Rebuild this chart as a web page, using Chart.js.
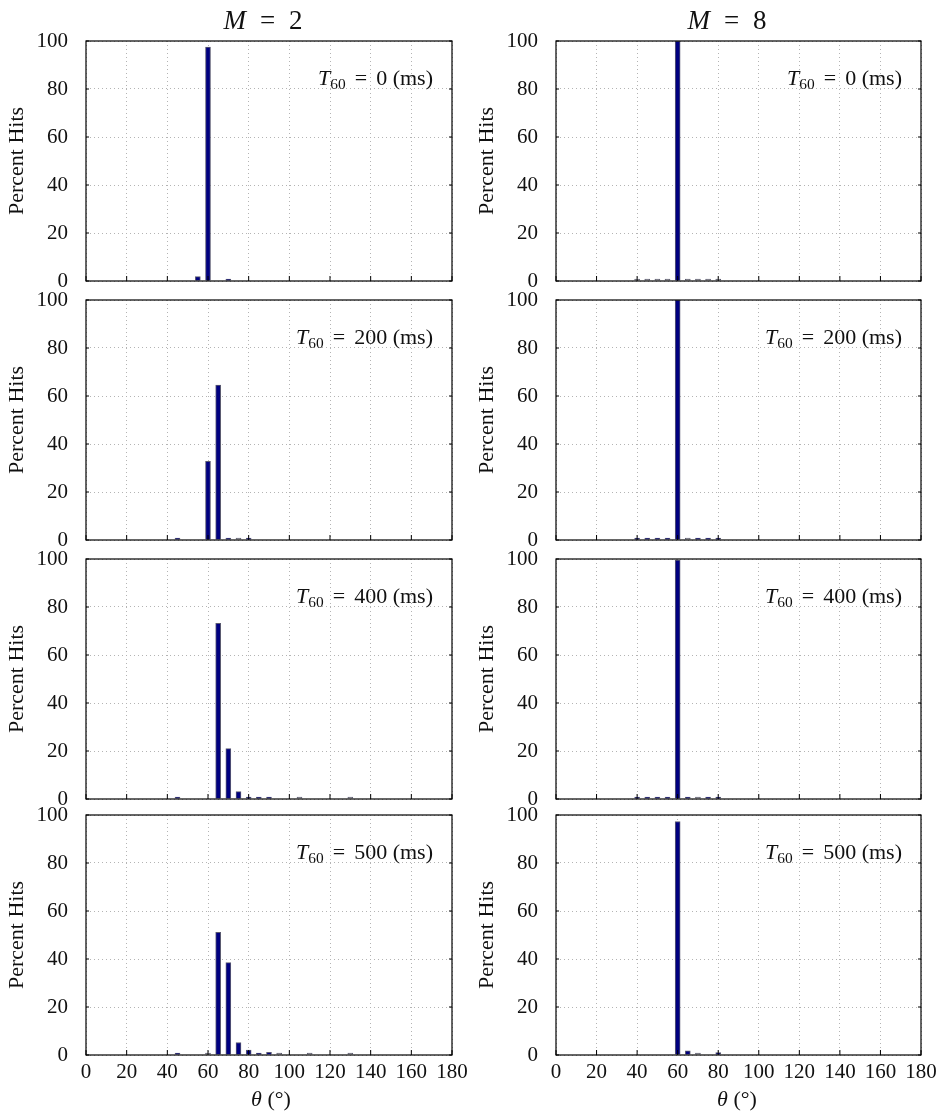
<!DOCTYPE html>
<html>
<head>
<meta charset="utf-8">
<script src="https://cdn.jsdelivr.net/npm/chart.js@4.4.1/dist/chart.umd.min.js"></script>
<style>
  body {
    margin: 0;
    width: 937px;
    height: 1111px;
    overflow: hidden;
    position: relative;
    background: #fff;
    font-family: "Liberation Serif", "DejaVu Serif", serif;
    color: #111;
  }
  canvas { position: absolute; }
  .txt { position: absolute; white-space: nowrap; line-height: 1; }
  .eq { margin: 0 9px; }
  sub { font-size: 70%; vertical-align: -0.25em; }
</style>
</head>
<body>
<script>
// angle bins (degrees) that have a bar, and their percent hits
// a 0 means an empty bin that still shows its outline on the axis
const m2t0Bins = [55, 60, 70];
const m2t0Hits = [1.8, 97.5, 0.4];

const m2t200Bins = [45, 60, 65, 70, 75, 80];
const m2t200Hits = [0.4, 32.8, 64.6, 0.5, 0, 0.5];

const m2t400Bins = [45, 65, 70, 75, 80, 85, 90, 105, 130];
const m2t400Hits = [0.4, 73.2, 21.0, 3.1, 0.5, 0.6, 0.5, 0, 0];

const m2t500Bins = [45, 60, 65, 70, 75, 80, 85, 90, 95, 110, 130];
const m2t500Hits = [0.5, 0, 51.1, 38.5, 5.2, 2.0, 0.5, 1.1, 0, 0, 0];

const m8t0Bins = [40, 45, 50, 55, 60, 65, 70, 75, 80];
const m8t0Hits = [0, 0, 0, 0, 100, 0, 0, 0, 0];

const m8t200Bins = [40, 45, 50, 55, 60, 65, 70, 75, 80];
const m8t200Hits = [0.3, 0.3, 0.3, 0.3, 100, 0, 0.3, 0.3, 0.3];

const m8t400Bins = [40, 45, 50, 55, 60, 65, 70, 75, 80];
const m8t400Hits = [0.3, 0.3, 0.3, 0.3, 99.5, 0.5, 0, 0.3, 0.3];

const m8t500Bins = [60, 65, 70, 80];
const m8t500Hits = [97.3, 1.7, 0, 1.0];

const micCounts = [2, 8];
const t60Values = [0, 200, 400, 500];

const panels = [
    [m2t0Bins, m2t0Hits], [m8t0Bins, m8t0Hits],
    [m2t200Bins, m2t200Hits], [m8t200Bins, m8t200Hits],
    [m2t400Bins, m2t400Hits], [m8t400Bins, m8t400Hits],
    [m2t500Bins, m2t500Hits], [m8t500Bins, m8t500Hits]
];

// layout of the grid
const colLeft = [0, 470];
const colWidth = [468, 467];
const rowTop = [41, 300, 559, 815];
const plotH = 240;
const yAxisW = 86;
const padTop = 20;
const padRight = 16;
const padBottom = 16;
const xAxisH = 30;

const tickFont = { family: "Liberation Serif", size: 21 };

// black box round the plot, with inward tick marks
const frame = {
    id: "frame",
    afterDraw(chart) {
        const { ctx, chartArea: a, scales } = chart;
        ctx.save();
        ctx.strokeStyle = "#000";
        ctx.lineWidth = 1.2;
        ctx.strokeRect(a.left, a.top, a.width, a.height);

        ctx.beginPath();
        scales.x.ticks.forEach(t => {
            const px = scales.x.getPixelForValue(t.value);
            ctx.moveTo(px, a.bottom);
            ctx.lineTo(px, a.bottom - 5);
        });
        scales.y.ticks.forEach(t => {
            const py = scales.y.getPixelForValue(t.value);
            ctx.moveTo(a.left, py);
            ctx.lineTo(a.left + 3, py);
            ctx.moveTo(a.right, py);
            ctx.lineTo(a.right - 3, py);
        });
        ctx.lineWidth = 1;
        ctx.stroke();
        ctx.restore();
    }
};

function addText(html, x, y, size, anchor) {
    const d = document.createElement("div");
    d.className = "txt";
    d.innerHTML = html;
    d.style.left = x + "px";
    d.style.top = y + "px";
    d.style.fontSize = size + "px";
    d.style.transform = anchor === "right"
        ? "translate(-100%, -50%)"
        : "translate(-50%, -50%)";
    document.body.appendChild(d);
}

panels.forEach(([bins, hits], i) => {

    const col = i % 2;
    const row = Math.floor(i / 2);
    const bottomRow = row === t60Values.length - 1;

    const canvas = document.createElement("canvas");
    const h = padTop + plotH + padBottom + (bottomRow ? xAxisH : 0);
    canvas.width = colWidth[col];
    canvas.height = h;
    canvas.style.left = colLeft[col] + "px";
    canvas.style.top = (rowTop[row] - padTop) + "px";
    document.body.appendChild(canvas);

    new Chart(canvas, {
        type: "bar",
        data: {
            datasets: [{
                data: bins.map((b, k) => ({ x: b, y: hits[k] })),
                backgroundColor: c =>
                    c.raw && c.raw.y === 0 ? "#a8a8a8" : "#000080",
                borderColor: "#5a5a70",
                borderWidth: 1,
                borderSkipped: "start",
                barThickness: 5,
                minBarLength: 2
            }]
        },
        options: {
            responsive: false,
            animation: false,
            layout: {
                padding: { top: padTop, right: padRight, bottom: padBottom, left: 0 }
            },
            plugins: {
                legend: { display: false },
                tooltip: { enabled: false }
            },
            scales: {
                x: {
                    type: "linear",
                    min: 0,
                    max: 180,
                    offset: false,
                    ticks: {
                        stepSize: 20,
                        display: bottomRow,
                        autoSkip: false,
                        maxRotation: 0,
                        padding: 5,
                        color: "#111",
                        font: tickFont
                    },
                    grid: { color: "#b4b4b4", drawTicks: false, offset: false },
                    border: { display: false, dash: [1, 3] },
                    afterFit: s => {
                        s.height = bottomRow ? xAxisH : 0;
                        s.paddingLeft = 0;
                        s.paddingRight = 0;
                    }
                },
                y: {
                    min: 0,
                    max: 100,
                    ticks: {
                        stepSize: 10,
                        callback: v => (v % 20 === 0 ? v : ""),
                        padding: 18,
                        color: "#111",
                        font: tickFont
                    },
                    grid: { color: "#b4b4b4", drawTicks: false },
                    border: { display: false, dash: [1, 3] },
                    title: {
                        display: true,
                        text: "Percent Hits",
                        color: "#111",
                        font: { family: "Liberation Serif", size: 22 },
                        padding: { top: 4, bottom: 0 }
                    },
                    afterFit: s => {
                        s.width = yAxisW;
                        s.paddingTop = 0;
                        s.paddingBottom = 0;
                    }
                }
            }
        },
        plugins: [frame]
    });

    // T60 note in the upper right of each plot
    const plotRight = colLeft[col] + colWidth[col] - padRight;
    addText(
        "<i>T</i><sub>60</sub><span class='eq'>=</span>" + t60Values[row] + " (ms)",
        plotRight - 19, rowTop[row] + 38, 22, "right"
    );
});

// column headings and x-axis titles
const titleX = [263, 727];
const thetaX = [271, 737];
micCounts.forEach((m, c) => {
    addText("<i>M</i><span style='margin:0 14px'>=</span>" + m, titleX[c], 20, 27);
    addText("<i>θ</i> (°)", thetaX[c], 1099, 22);
});
</script>
</body>
</html>
